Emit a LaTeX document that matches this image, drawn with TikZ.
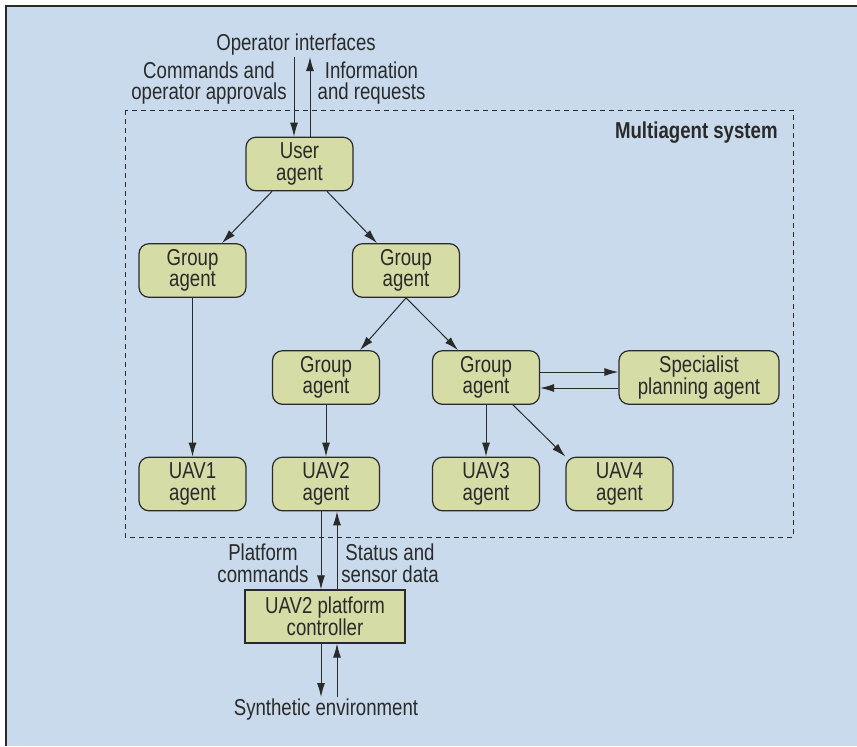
\documentclass[tikz,border=0pt]{standalone}
\usepackage{fontspec}
\setmainfont{Liberation Sans}[FakeStretch=0.81]
\usetikzlibrary{arrows.meta}
\definecolor{panelblue}{HTML}{C8DAEB}
\definecolor{agentfill}{HTML}{D5DCA6}
\definecolor{inkgray}{HTML}{2A2A2A}
\begin{document}
\begin{tikzpicture}[
        x=0.5pt, y=-0.5pt,
        font=\fontsize{11.5}{10.8}\selectfont,
        agent/.style={rectangle, draw=inkgray, fill=agentfill, line width=0.6pt, text=inkgray, align=center, minimum width=53.5pt, minimum height=26.8pt, inner sep=0pt, rounded corners=5pt},
        note/.style={text=inkgray, align=center, inner sep=0pt},
        arrow/.style={-{Latex[length=7pt,width=4pt]}, draw=inkgray, line width=0.5pt}
    ]
        \useasboundingbox (0,0) rectangle (857,746);
        \fill[panelblue] (6,6) rectangle (857,746);
        \draw[inkgray, line width=1pt] (6,746) -- (6,6) -- (857,6);
        \draw[inkgray, line width=0.5pt, dash pattern=on 2.5pt off 2pt] (125,110) rectangle (793,537);

        \node[note, font=\fontsize{11.5}{10.8}\selectfont\bfseries, anchor=east] (mas) at (778,133) {Multiagent system};

        \node[agent] (user) at (299.5,164) {User\\agent};
        \node[agent] (ga) at (192.5,270.5) {Group\\agent};
        \node[agent] (gb) at (406,270.5) {Group\\agent};
        \node[agent] (gc) at (326,377.5) {Group\\agent};
        \node[agent] (gd) at (486,377.5) {Group\\agent};
        \node[agent, minimum width=80pt] (spec) at (699,377.5) {Specialist\\planning agent};
        \node[agent] (uav1) at (192.5,484) {UAV1\\agent};
        \node[agent] (uav2) at (326,484) {UAV2\\agent};
        \node[agent] (uav3) at (486,484) {UAV3\\agent};
        \node[agent] (uav4) at (619.5,484) {UAV4\\agent};
        \node[agent, sharp corners, minimum width=80pt, minimum height=26.5pt] (ctrl) at (325,616.5) {UAV2 platform\\controller};

        \node[note] (ops) at (296,45) {Operator interfaces};
        \node[note] (cmds) at (209,83) {Commands and\\operator approvals};
        \node[note] (info) at (371.5,83) {Information\\and requests};
        \node[note] (platcmd) at (263,563.5) {Platform\\commands};
        \node[note] (status) at (390,563.5) {Status and\\sensor data};
        \node[note] (synth) at (326,710) {Synthetic environment};

        \coordinate (opdown) at (294,57);
        \coordinate (opup) at (310,57);
        \coordinate (cmdx) at (321,0);
        \coordinate (statx) at (337,0);
        \coordinate (envdown) at (321,697);
        \coordinate (envup) at (337,697);

        \draw[arrow] (opdown) -- (opdown |- user.north);
        \draw[arrow] (opup |- user.north) -- (opup);
        \draw[arrow] ([xshift=-13.75pt]user.south) -- ([xshift=14.75pt]ga.north);
        \draw[arrow] ([xshift=13.75pt]user.south) -- ([xshift=-14.5pt]gb.north);
        \draw[arrow] (ga) -- (uav1);
        \draw[arrow] (gb.south) -- ([xshift=17pt]gc.north);
        \draw[arrow] (gb.south) -- ([xshift=-14pt]gd.north);
        \draw[arrow] (gc) -- (uav2);
        \draw[arrow] (gd) -- (uav3);
        \draw[arrow] ([xshift=13.5pt]gd.south) -- (uav4.north west);
        \draw[arrow] ([yshift=2.75pt]gd.east) -- ([yshift=2.75pt]spec.west);
        \draw[arrow] ([yshift=-5.25pt]spec.west) -- ([yshift=-5.25pt]gd.east);
        \draw[arrow] (cmdx |- uav2.south) -- (cmdx |- ctrl.north);
        \draw[arrow] (statx |- ctrl.north) -- (statx |- uav2.south);
        \draw[arrow] (envdown |- ctrl.south) -- (envdown);
        \draw[arrow] (envup) -- (envup |- ctrl.south);
    \end{tikzpicture}
\end{document}
